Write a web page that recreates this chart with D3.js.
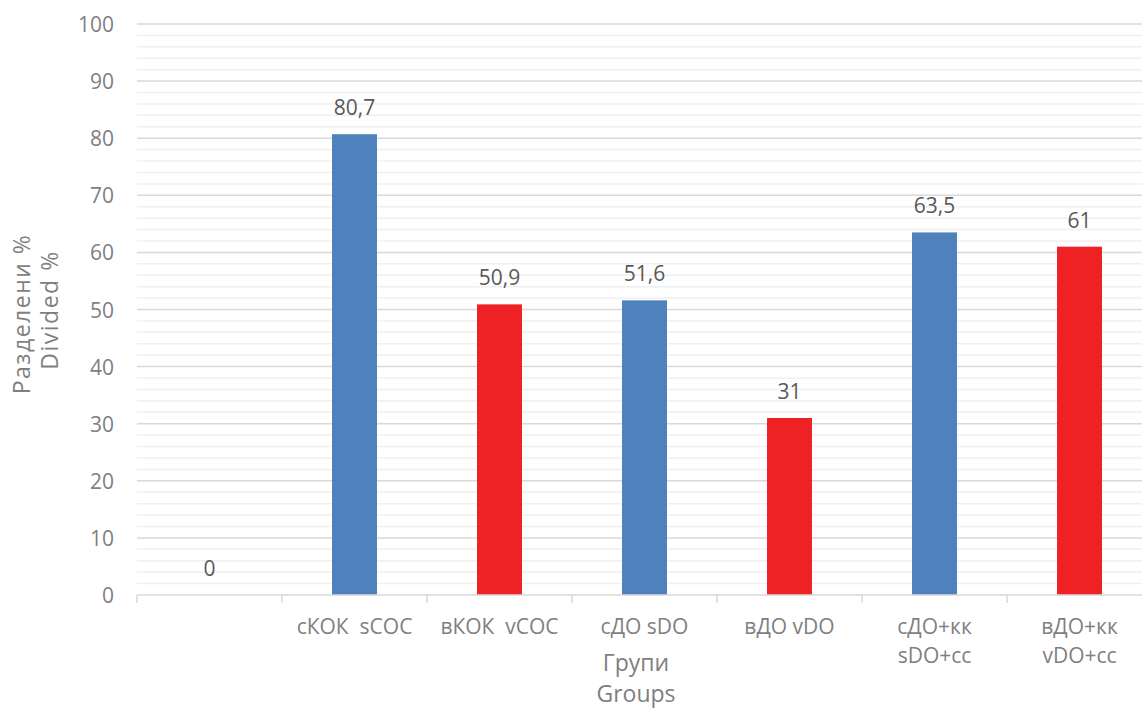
<!DOCTYPE html>
<html>
<head>
<meta charset="utf-8">
<script src="https://cdn.jsdelivr.net/npm/d3@7"></script>
<style>
  body { margin: 0; background: #fff; }
  text { font-family: "Open Sans", "Noto Sans", sans-serif; }
</style>
</head>
<body>
<script>
// data
const categories = ["", "сКОК  sCOC", "вКОК  vCOC", "сДО sDO", "вДО vDO", "сДО+кк\nsDO+cc", "вДО+кк\nvDO+cc"];
const values = [0, 80.7, 50.9, 51.6, 31, 63.5, 61];
const valueLabels = ["0", "80,7", "50,9", "51,6", "31", "63,5", "61"];
const barColors = ["#4F81BD", "#4F81BD", "#EE2225", "#4F81BD", "#EE2225", "#4F81BD", "#EE2225"];
const majorTicks = [0, 10, 20, 30, 40, 50, 60, 70, 80, 90, 100];
const minorTicks = d3.range(0, 101, 2);

let w = 1142, h = 708;
let plotLeft = 137, plotRight = 1152, plotTop = 24, plotBottom = 595;

let svg = d3.select("body").append("svg")
  .attr("width", w)
  .attr("height", h);

let x = d3.scaleBand()
  .domain(d3.range(categories.length))
  .range([plotLeft, plotRight])
  .paddingInner(0.69)
  .paddingOuter(0.345);

let xb = d3.scaleBand()
  .domain(d3.range(categories.length))
  .range([plotLeft, plotRight]);

let y = d3.scaleLinear().domain([0, 100]).range([plotBottom, plotTop]);

// minor gridlines
svg.append("g").selectAll("line")
  .data(minorTicks.filter(d => d % 10 !== 0))
  .enter().append("line")
  .attr("x1", plotLeft).attr("x2", w)
  .attr("y1", d => y(d)).attr("y2", d => y(d))
  .style("stroke", "#f0f0f0")
  .style("stroke-width", 1.5);

// major gridlines
svg.append("g").selectAll("line")
  .data(majorTicks.filter(d => d > 0))
  .enter().append("line")
  .attr("x1", plotLeft).attr("x2", w)
  .attr("y1", d => y(d)).attr("y2", d => y(d))
  .style("stroke", "#d9d9d9")
  .style("stroke-width", 1.5);

// y tick labels
svg.append("g").selectAll("text")
  .data(majorTicks)
  .enter().append("text")
  .attr("x", 114)
  .attr("y", d => y(d) + 8)
  .attr("text-anchor", "end")
  .style("font-size", "21px")
  .style("fill", "#7f7f7f")
  .text(d => d);

// bars
svg.append("g").selectAll("rect")
  .data(values)
  .enter().append("rect")
  .attr("x", (d, i) => x(i))
  .attr("width", x.bandwidth())
  .attr("y", d => y(d))
  .attr("height", d => plotBottom - y(d))
  .style("fill", (d, i) => barColors[i]);

// value labels
svg.append("g").selectAll("text")
  .data(values)
  .enter().append("text")
  .attr("x", (d, i) => x(i) + x.bandwidth() / 2)
  .attr("y", d => y(d) - 19)
  .attr("text-anchor", "middle")
  .style("font-size", "21px")
  .style("fill", "#595959")
  .text((d, i) => valueLabels[i]);

// x axis line + ticks
svg.append("line")
  .attr("x1", plotLeft).attr("x2", w)
  .attr("y1", plotBottom).attr("y2", plotBottom)
  .style("stroke", "#d9d9d9")
  .style("stroke-width", 1.5);

svg.append("g").selectAll("line")
  .data(d3.range(categories.length + 1))
  .enter().append("line")
  .attr("x1", d => plotLeft + d * xb.step())
  .attr("x2", d => plotLeft + d * xb.step())
  .attr("y1", plotBottom).attr("y2", plotBottom + 8)
  .style("stroke", "#d9d9d9")
  .style("stroke-width", 1.5);

// category labels
let cat = svg.append("g").selectAll("text")
  .data(categories)
  .enter().append("text")
  .attr("x", (d, i) => xb(i) + xb.bandwidth() / 2)
  .attr("y", 634)
  .attr("text-anchor", "middle")
  .style("font-size", "21px")
  .style("fill", "#7f7f7f");

cat.selectAll("tspan")
  .data(d => d.split("\n"))
  .enter().append("tspan")
  .attr("x", function() { return this.parentNode.getAttribute("x"); })
  .attr("dy", (d, i) => i === 0 ? 0 : 29)
  .style("white-space", "pre")
  .text(d => d);

// axis titles
svg.append("text")
  .attr("x", 636).attr("y", 671)
  .attr("text-anchor", "middle")
  .style("font-size", "23px")
  .style("fill", "#7f7f7f")
  .text("Групи");
svg.append("text")
  .attr("x", 636).attr("y", 702)
  .attr("text-anchor", "middle")
  .style("font-size", "23px")
  .style("fill", "#7f7f7f")
  .text("Groups");

svg.append("text")
  .attr("transform", "translate(30,314) rotate(-90)")
  .attr("text-anchor", "middle")
  .style("font-size", "23px")
  .style("letter-spacing", "1.5px")
  .style("fill", "#7f7f7f")
  .text("Разделени %");
svg.append("text")
  .attr("transform", "translate(58,310) rotate(-90)")
  .attr("text-anchor", "middle")
  .style("font-size", "23px")
  .style("letter-spacing", "1.5px")
  .style("fill", "#7f7f7f")
  .text("Divided %");
</script>
</body>
</html>
